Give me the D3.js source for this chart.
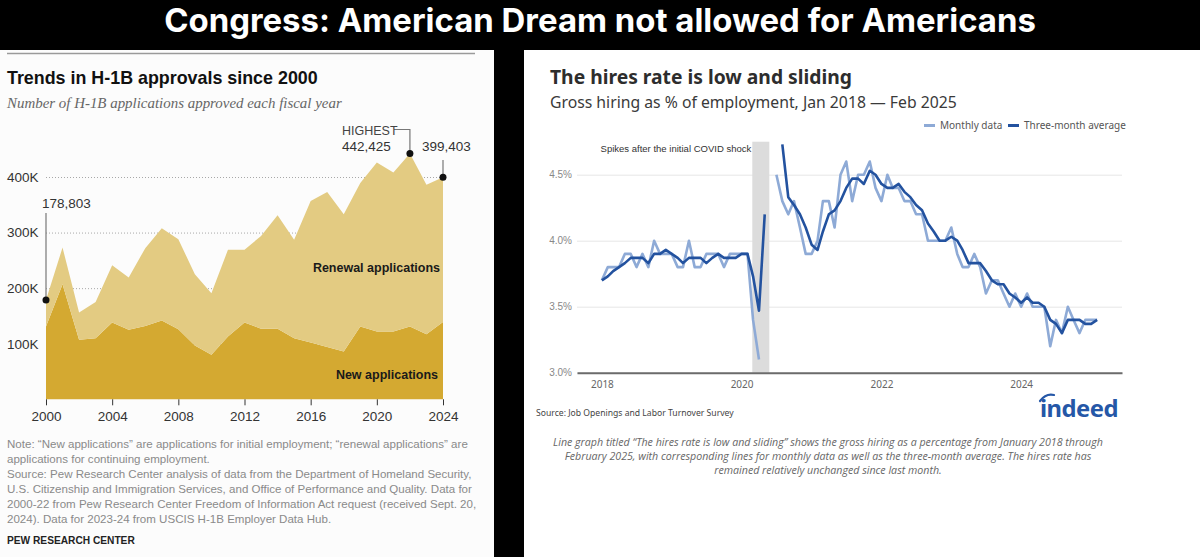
<!DOCTYPE html>
<html>
<head>
<meta charset="utf-8">
<script src="https://cdn.jsdelivr.net/npm/d3@7/dist/d3.min.js"></script>
<style>
  html, body { margin: 0; padding: 0; background: #000; }
  svg { display: block; }
</style>
</head>
<body>
<div id="chart"></div>
<script>
// ---- pew chart data (fiscal years, approvals) ----
var pewYears = [2000, 2001, 2002, 2003, 2004, 2005, 2006, 2007, 2008, 2009, 2010, 2011, 2012,
                2013, 2014, 2015, 2016, 2017, 2018, 2019, 2020, 2021, 2022, 2023, 2024];
var newApps = [131000, 207000, 107000, 110000, 138000, 125000, 132000, 142000, 126000, 97000, 80000, 113000, 138000,
               127000, 127000, 110000, 102000, 94000, 86000, 131000, 122000, 122000, 131000, 117000, 139000];
var renewalApps = [47803, 66000, 49000, 65000, 103000, 94000, 140000, 166000, 162000, 128000, 111000, 156000, 131000,
                   167000, 204000, 177000, 255000, 279000, 247000, 258000, 304000, 286000, 311425, 269000, 260403];
var pewYTicks = [100000, 200000, 300000, 400000];
var pewXTicks = [2000, 2004, 2008, 2012, 2016, 2020, 2024];

// ---- indeed chart data (Jan 2018 - Feb 2025, hires rate %) ----
var hiresMonthly = [3.7, 3.8, 3.8, 3.8, 3.9, 3.9, 3.8, 3.9, 3.8, 4.0, 3.9, 3.9,
                    3.9, 3.8, 3.8, 4.0, 3.8, 3.8, 3.9, 3.9, 3.9, 3.8, 3.9, 3.9,
                    3.9, 3.9, 3.4, 3.1, null, null, 4.5, 4.3, 4.2, 4.3, 4.1, 3.9,
                    3.9, 4.0, 4.3, 4.3, 4.1, 4.5, 4.6, 4.3, 4.5, 4.5, 4.6, 4.4,
                    4.3, 4.5, 4.4, 4.4, 4.3, 4.3, 4.2, 4.2, 4.0, 4.0, 4.0, 4.0,
                    4.1, 3.9, 3.8, 3.8, 3.9, 3.8, 3.6, 3.7, 3.7, 3.6, 3.5, 3.6,
                    3.5, 3.6, 3.5, 3.5, 3.5, 3.2, 3.4, 3.3, 3.5, 3.4, 3.3, 3.4,
                    3.4, 3.4];
var hiresAvg = [3.70, 3.73, 3.77, 3.80, 3.83, 3.87, 3.87, 3.87, 3.83, 3.90, 3.90, 3.93,
                3.90, 3.87, 3.83, 3.87, 3.87, 3.87, 3.83, 3.87, 3.90, 3.87, 3.87, 3.87,
                3.90, 3.90, 3.73, 3.47, 4.20, null, null, 4.73, 4.33, 4.27, 4.20, 4.10,
                3.97, 3.93, 4.07, 4.20, 4.23, 4.30, 4.40, 4.47, 4.47, 4.43, 4.53, 4.50,
                4.43, 4.40, 4.40, 4.43, 4.37, 4.33, 4.27, 4.23, 4.13, 4.07, 4.00, 4.00,
                4.03, 4.00, 3.93, 3.83, 3.83, 3.83, 3.77, 3.70, 3.67, 3.67, 3.60, 3.57,
                3.53, 3.57, 3.53, 3.53, 3.50, 3.40, 3.37, 3.30, 3.40, 3.40, 3.40, 3.37,
                3.37, 3.40];
var hiresYTicks = [3.0, 3.5, 4.0, 4.5];
var hiresXTicks = [2018, 2020, 2022, 2024];
var covidBand = [new Date(2020, 1, 26), new Date(2020, 4, 25)];

var noteLines = [
  'Note: \u201cNew applications\u201d are applications for initial employment; \u201crenewal applications\u201d are',
  'applications for continuing employment.',
  'Source: Pew Research Center analysis of data from the Department of Homeland Security,',
  'U.S. Citizenship and Immigration Services, and Office of Performance and Quality. Data for',
  '2000-22 from Pew Research Center Freedom of Information Act request (received Sept. 20,',
  '2024). Data for 2023-24 from USCIS H-1B Employer Data Hub.'
];
var captionLines = [
  'Line graph titled \u201cThe hires rate is low and sliding\u201d shows the gross hiring as a percentage from January 2018 through',
  'February 2025, with corresponding lines for monthly data as well as the three-month average. The hires rate has',
  'remained relatively unchanged since last month.'
];

// scale a text's font size so it spans the given width
function fit(sel, w) {
  var cur = sel.node().getComputedTextLength();
  var fs = parseFloat(sel.attr('font-size'));
  sel.attr('font-size', (fs * w / cur).toFixed(2));
  return sel;
}

var svg = d3.select('#chart')
            .append('svg')
            .attr('width', 1200)
            .attr('height', 557);

svg.append('rect').attr('width', 1200).attr('height', 557).attr('fill', '#000');

fit(svg.append('text')
  .attr('x', 600).attr('y', 32)
  .attr('text-anchor', 'middle')
  .attr('font-family', 'Inter, Roboto, sans-serif')
  .attr('font-weight', 700)
  .attr('font-size', 30)
  .attr('fill', '#fff')
  .text('Congress: American Dream not allowed for Americans'), 872);

// =================== left panel: pew ===================
var left = svg.append('g');
left.append('rect').attr('x', 0).attr('y', 50).attr('width', 494).attr('height', 507).attr('fill', '#fcfcfc');
left.append('line').attr('x1', 7).attr('x2', 475).attr('y1', 53.5).attr('y2', 53.5)
    .attr('stroke', '#9a9a9a').attr('stroke-width', 1.5);

fit(left.append('text')
  .attr('x', 7).attr('y', 84)
  .attr('font-family', '"Liberation Sans", Arial, sans-serif')
  .attr('font-weight', 700)
  .attr('font-size', 17)
  .attr('fill', '#111')
  .text('Trends in H-1B approvals since 2000'), 311);

fit(left.append('text')
  .attr('x', 7).attr('y', 108)
  .attr('font-family', '"Liberation Serif", Georgia, serif')
  .attr('font-style', 'italic')
  .attr('font-size', 14)
  .attr('fill', '#666')
  .text('Number of H-1B applications approved each fiscal year'), 335);

var px = d3.scaleLinear().domain([2000, 2024]).range([46, 443]);
var py = d3.scaleLinear().domain([0, 400000]).range([399.3, 177]);

var pewRows = pewYears.map(function (yr, i) {
  return { year: yr, fresh: newApps[i], renewal: renewalApps[i] };
});
var stacked = d3.stack().keys(['fresh', 'renewal'])(pewRows);

// dotted gridlines behind the areas
var pewGrid = left.append('g')
  .attr('transform', 'translate(46,0)')
  .call(d3.axisLeft(py).tickValues(pewYTicks).tickSize(-(443 - 46)).tickFormat(function (d) { return d / 1000 + 'K'; }));
pewGrid.select('.domain').remove();
pewGrid.selectAll('line').attr('stroke', '#a8a8a8').attr('stroke-dasharray', '1,2');
pewGrid.selectAll('text')
  .attr('x', -39).attr('text-anchor', 'start')
  .attr('font-family', '"Liberation Sans", Arial, sans-serif')
  .attr('font-size', 13.5).attr('fill', '#333');

var area = d3.area()
  .x(function (d) { return px(d.data.year); })
  .y0(function (d) { return py(d[0]); })
  .y1(function (d) { return py(d[1]); });

left.selectAll('path.layer')
  .data(stacked).enter()
  .append('path')
  .attr('class', 'layer')
  .attr('d', area)
  .attr('fill', function (d) { return d.key === 'fresh' ? '#d4a931' : '#e3cb82'; });

var pewAxis = left.append('g')
  .attr('transform', 'translate(0,399.3)')
  .call(d3.axisBottom(px).tickValues(pewXTicks).tickFormat(d3.format('d')).tickSize(6).tickPadding(6));
pewAxis.select('.domain').remove();
pewAxis.selectAll('line').attr('stroke', '#333');
pewAxis.selectAll('text')
  .attr('font-family', '"Liberation Sans", Arial, sans-serif')
  .attr('font-size', 13.5).attr('fill', '#333');

// layer labels
left.append('text').attr('x', 440).attr('y', 272).attr('text-anchor', 'end')
  .attr('font-family', '"Liberation Sans", Arial, sans-serif').attr('font-weight', 700)
  .attr('font-size', 12.5).attr('fill', '#1a1a1a').text('Renewal applications');
left.append('text').attr('x', 438).attr('y', 378.5).attr('text-anchor', 'end')
  .attr('font-family', '"Liberation Sans", Arial, sans-serif').attr('font-weight', 700)
  .attr('font-size', 12.5).attr('fill', '#1a1a1a').text('New applications');

// value callouts
var total = function (i) { return newApps[i] + renewalApps[i]; };
var i2000 = 0, i2022 = pewYears.indexOf(2022), i2024 = pewYears.indexOf(2024);
var fmt = d3.format(',');
var callFont = '"Liberation Sans", Arial, sans-serif';

left.append('line').attr('x1', px(2000)).attr('x2', px(2000)).attr('y1', 213).attr('y2', py(total(i2000)))
  .attr('stroke', '#777').attr('stroke-width', 1.2);
left.append('text').attr('x', 42).attr('y', 207.5).attr('font-family', callFont)
  .attr('font-size', 13.5).attr('fill', '#333').text(fmt(total(i2000)));

left.append('path')
  .attr('d', 'M394,129.5H' + px(2022) + 'V' + py(total(i2022)))
  .attr('fill', 'none').attr('stroke', '#777').attr('stroke-width', 1.2);
left.append('text').attr('x', 342).attr('y', 135).attr('font-family', callFont)
  .attr('font-size', 12.5).attr('fill', '#444').text('HIGHEST');
left.append('text').attr('x', 342).attr('y', 151).attr('font-family', callFont)
  .attr('font-size', 13.5).attr('fill', '#333').text(fmt(total(i2022)));

left.append('line').attr('x1', px(2024)).attr('x2', px(2024)).attr('y1', 160).attr('y2', py(total(i2024)))
  .attr('stroke', '#777').attr('stroke-width', 1.2);
left.append('text').attr('x', 422).attr('y', 151).attr('font-family', callFont)
  .attr('font-size', 13.5).attr('fill', '#333').text(fmt(total(i2024)));

left.selectAll('circle.dot')
  .data([i2000, i2022, i2024]).enter()
  .append('circle')
  .attr('class', 'dot')
  .attr('cx', function (i) { return px(pewYears[i]); })
  .attr('cy', function (i) { return py(total(i)); })
  .attr('r', 3.5)
  .attr('fill', '#111');

// notes
var notes = left.append('g');
noteLines.forEach(function (t, i) {
  var el = notes.append('text')
    .attr('x', 7).attr('y', 448 + i * 15)
    .attr('font-family', '"Liberation Sans", Arial, sans-serif')
    .attr('font-size', 12).attr('fill', '#8a8a8a').text(t);
  if (i === 0) fit(el, 461);
});
var noteSize = notes.select('text').attr('font-size');
notes.selectAll('text').attr('font-size', noteSize);

fit(left.append('text')
  .attr('x', 7).attr('y', 544)
  .attr('font-family', '"Liberation Sans", Arial, sans-serif')
  .attr('font-weight', 700)
  .attr('font-size', 11.5)
  .attr('fill', '#222')
  .text('PEW RESEARCH CENTER'), 128);

// =================== right panel: indeed ===================
var right = svg.append('g');
right.append('rect').attr('x', 524).attr('y', 50).attr('width', 676).attr('height', 507).attr('fill', '#fff');

fit(right.append('text')
  .attr('x', 550).attr('y', 84)
  .attr('font-family', '"Noto Sans", "Open Sans", sans-serif')
  .attr('font-weight', 700)
  .attr('font-size', 19)
  .attr('fill', '#2d2d2d')
  .text('The hires rate is low and sliding'), 302);

fit(right.append('text')
  .attr('x', 550).attr('y', 108)
  .attr('font-family', '"Noto Sans", "Open Sans", sans-serif')
  .attr('font-size', 15)
  .attr('fill', '#3a3a3a')
  .text('Gross hiring as % of employment, Jan 2018 \u2014 Feb 2025'), 407);

var hx = d3.scaleTime().domain([new Date(2017, 7, 24), new Date(2025, 5, 11)]).range([577, 1122]);
var hy = d3.scaleLinear().domain([3.0, 4.75]).range([372.7, 141.7]);
var hireMonths = d3.timeMonth.range(new Date(2018, 0, 1), new Date(2025, 2, 1));

// legend
var legend = right.append('g').attr('font-family', '"Noto Sans", "Open Sans", sans-serif')
  .attr('font-size', 10).attr('fill', '#555');
legend.append('line').attr('x1', 924).attr('x2', 935).attr('y1', 125.5).attr('y2', 125.5)
  .attr('stroke', '#8eaad6').attr('stroke-width', 3);
legend.append('text').attr('x', 940).attr('y', 129).text('Monthly data');
legend.append('line').attr('x1', 1008).attr('x2', 1019).attr('y1', 125.5).attr('y2', 125.5)
  .attr('stroke', '#23529f').attr('stroke-width', 3);
legend.append('text').attr('x', 1024).attr('y', 129).text('Three-month average');

// gridlines and y labels
var hGrid = right.append('g')
  .attr('transform', 'translate(577,0)')
  .call(d3.axisLeft(hy).tickValues(hiresYTicks).tickSize(-(1122 - 577)).tickPadding(5)
    .tickFormat(function (d) { return d3.format('.1f')(d) + '%'; }));
hGrid.select('.domain').remove();
hGrid.selectAll('line').attr('stroke', '#e6e6e6');
hGrid.selectAll('text')
  .attr('font-family', '"Liberation Sans", Arial, sans-serif')
  .attr('font-size', 10).attr('fill', '#888');

// covid band
right.append('rect')
  .attr('x', hx(covidBand[0]))
  .attr('width', hx(covidBand[1]) - hx(covidBand[0]))
  .attr('y', hy.range()[1])
  .attr('height', hy.range()[0] - hy.range()[1])
  .attr('fill', '#dcdcdc');

fit(right.append('text')
  .attr('x', hx(covidBand[0]) - 1).attr('y', 151.5)
  .attr('text-anchor', 'end')
  .attr('font-family', '"Liberation Sans", Arial, sans-serif')
  .attr('font-size', 9.5)
  .attr('fill', '#333')
  .text('Spikes after the initial COVID shock'), 151);

// x axis
var hAxis = right.append('g')
  .attr('transform', 'translate(0,372.7)')
  .call(d3.axisBottom(hx)
    .tickValues(hiresXTicks.map(function (y) { return new Date(y, 0, 1); }))
    .tickFormat(d3.timeFormat('%Y')).tickSize(0).tickPadding(8));
hAxis.select('.domain').attr('stroke', '#6b6b6b').attr('stroke-width', 2);
hAxis.selectAll('text')
  .attr('font-family', '"Noto Sans", "Open Sans", sans-serif')
  .attr('font-size', 10).attr('fill', '#666');

var hLine = function (vals) {
  return d3.line()
    .defined(function (d, i) { return vals[i] != null; })
    .x(function (d) { return hx(d); })
    .y(function (d, i) { return hy(vals[i]); })(hireMonths);
};

right.append('path')
  .attr('d', hLine(hiresMonthly))
  .attr('fill', 'none')
  .attr('stroke', '#8eaad6')
  .attr('stroke-width', 2.6)
  .attr('stroke-linejoin', 'round');

right.append('path')
  .attr('d', hLine(hiresAvg))
  .attr('fill', 'none')
  .attr('stroke', '#23529f')
  .attr('stroke-width', 2.6)
  .attr('stroke-linejoin', 'round');

// source + logo
fit(right.append('text')
  .attr('x', 536).attr('y', 416)
  .attr('font-family', '"Noto Sans", "Open Sans", sans-serif')
  .attr('font-size', 9.5)
  .attr('fill', '#444')
  .text('Source: Job Openings and Labor Turnover Survey'), 198);

var logo = right.append('g');
fit(logo.append('text')
  .attr('x', 1040).attr('y', 417)
  .attr('font-family', '"Noto Sans", "Open Sans", sans-serif')
  .attr('font-weight', 700)
  .attr('font-size', 24)
  .attr('fill', '#2557a7')
  .attr('letter-spacing', -0.5)
  .text('indeed'), 78);
logo.append('path')
  .attr('d', 'M1040,401 Q1046,393 1054,395')
  .attr('fill', 'none').attr('stroke', '#2557a7').attr('stroke-width', 2.2).attr('stroke-linecap', 'round');

// caption
var cap = right.append('g');
captionLines.forEach(function (t, i) {
  var el = cap.append('text')
    .attr('x', 828).attr('y', 446 + i * 14)
    .attr('text-anchor', 'middle')
    .attr('font-family', '"Open Sans", "Noto Sans", sans-serif')
    .attr('font-style', 'italic')
    .attr('font-size', 9).attr('fill', '#666').text(t);
  if (i === 0) fit(el, 550);
});
var capSize = cap.select('text').attr('font-size');
cap.selectAll('text').attr('font-size', capSize);
</script>
</body>
</html>
